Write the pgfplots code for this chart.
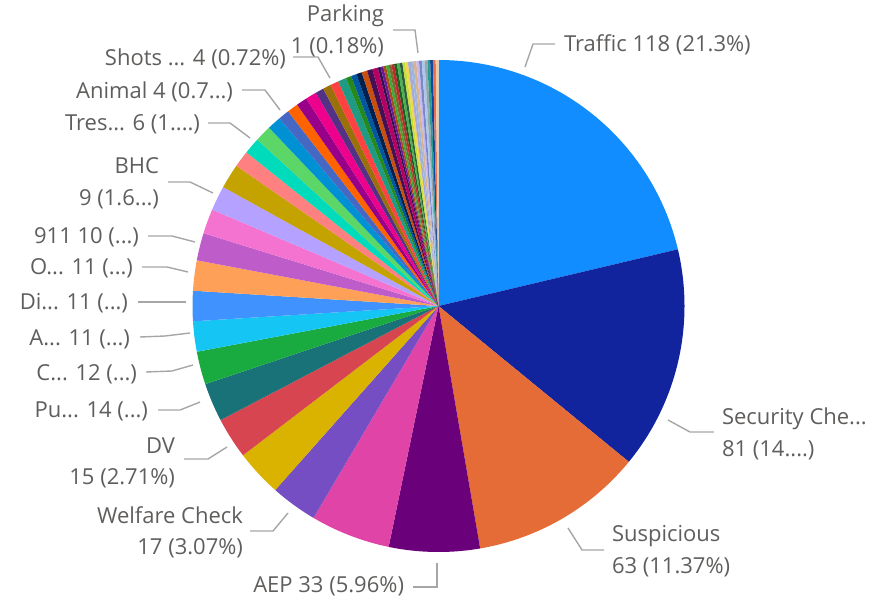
\documentclass[border=0pt]{standalone}
\usepackage{pgfplots}
\pgfplotsset{compat=1.18}
\usepackage{pgfplotstable}
\usepackage{fontspec}
\setmainfont{Open Sans}
\definecolor{labelgray}{HTML}{605E5C}
\definecolor{leadgray}{HTML}{A6A6A6}
\tikzset{lbl/.style={font=\fontsize{11}{13}\selectfont, text=labelgray, inner sep=0pt, outer sep=0pt}}
% slice colours, in slice order (clockwise from 12 o'clock)
\definecolor{pc0}{HTML}{118DFF}\definecolor{pc1}{HTML}{12239E}\definecolor{pc2}{HTML}{E66C37}
\definecolor{pc3}{HTML}{6B007B}\definecolor{pc4}{HTML}{E044A7}\definecolor{pc5}{HTML}{744EC2}
\definecolor{pc6}{HTML}{D9B300}\definecolor{pc7}{HTML}{D64550}\definecolor{pc8}{HTML}{197278}
\definecolor{pc9}{HTML}{1AAB40}\definecolor{pc10}{HTML}{15C6F4}\definecolor{pc11}{HTML}{4092FF}
\definecolor{pc12}{HTML}{FFA058}\definecolor{pc13}{HTML}{BE5DC9}\definecolor{pc14}{HTML}{F472D0}
\definecolor{pc15}{HTML}{B5A1FF}\definecolor{pc16}{HTML}{C4A200}\definecolor{pc17}{HTML}{FF8080}
\definecolor{pc18}{HTML}{00DBBC}\definecolor{pc19}{HTML}{5BD667}\definecolor{pc20}{HTML}{0091D5}
\definecolor{pc21}{HTML}{4668C5}\definecolor{pc22}{HTML}{FF6300}\definecolor{pc23}{HTML}{99008A}
\definecolor{pc24}{HTML}{EC008C}\definecolor{pc25}{HTML}{533285}\definecolor{pc26}{HTML}{99700A}
\definecolor{pc27}{HTML}{FF4141}\definecolor{pc28}{HTML}{1F9A85}\definecolor{pc29}{HTML}{25891C}
\definecolor{pc30}{HTML}{0057A2}\definecolor{pc31}{HTML}{002050}\definecolor{pc32}{HTML}{C94F0F}
\definecolor{pc33}{HTML}{450F54}\definecolor{pc34}{HTML}{B60064}\definecolor{pc35}{HTML}{34124F}
\definecolor{pc36}{HTML}{6A1B9A}\definecolor{pc37}{HTML}{AC4E14}\definecolor{pc38}{HTML}{3DAA3D}
\definecolor{pc39}{HTML}{7B6B2A}\definecolor{pc40}{HTML}{C1272D}\definecolor{pc41}{HTML}{1B5E20}
\definecolor{pc42}{HTML}{4CAF50}\definecolor{pc43}{HTML}{2E5E3E}\definecolor{pc44}{HTML}{C6E03B}
\definecolor{pc45}{HTML}{F2D64B}\definecolor{pc46}{HTML}{A7A9D6}\definecolor{pc47}{HTML}{9BB7E0}
\definecolor{pc48}{HTML}{D9B38C}\definecolor{pc49}{HTML}{C5B9F0}\definecolor{pc50}{HTML}{7B87C6}
\definecolor{pc51}{HTML}{A9C9E8}\definecolor{pc52}{HTML}{9AA5B1}\definecolor{pc53}{HTML}{2A9D8F}
\definecolor{pc54}{HTML}{0D47A1}\definecolor{pc55}{HTML}{E76F51}\definecolor{pc56}{HTML}{F0C9A0}

\pgfplotstableread{
val
118
81
63
33
29
17
17
15
14
12
11
11
11
10
9
9
9
6
6
6
5
4
4
4
4
3
3
3
3
2
2
2
2
2
2
1
1
1
1
1
1
1
1
1
1
1
1
1
1
1
1
1
1
1
1
1
1
}\piedata

\begin{document}
\begin{tikzpicture}
\begin{axis}[
  scale only axis, width=441pt, height=302pt,
  xmin=0, xmax=882, ymin=0, ymax=604, y dir=reverse,
  hide axis, clip=false,
]
\path (axis cs:0,0) rectangle (axis cs:882,604);
\pgfplotstablegetrowsof{\piedata}
\pgfmathtruncatemacro\N{\pgfplotsretval-1}
% total
\def\tot{0}
\pgfplotsforeachungrouped \i in {0,...,\N}{%
  \pgfplotstablegetelem{\i}{val}\of\piedata
  \pgfmathsetmacro\tot{\tot+\pgfplotsretval}%
}
\def\cum{0}
\pgfplotsforeachungrouped \i in {0,...,\N}{%
  \pgfplotstablegetelem{\i}{val}\of\piedata
  \let\v\pgfplotsretval
  \pgfmathsetmacro\a{\cum/\tot*360}%
  \pgfmathsetmacro\cum{\cum+\v}%
  \pgfmathsetmacro\b{\cum/\tot*360}%
  \pgfmathtruncatemacro\ns{max(4,2*\v)}%
  \edef\temp{\noexpand\addplot[draw=none, fill=pc\i, domain=\a:\b, samples=\ns]
    ({438.5+246*sin(x)},{306-246*cos(x)}) -- (axis cs:438.5,306) -- cycle;}%
  \temp
}
% leader lines
\begin{scope}[draw=leadgray, line width=0.7pt]
\draw (axis cs:525,67) -- (axis cs:533,44) -- (axis cs:555,44);
\draw (axis cs:668,420) -- (axis cs:690,432) -- (axis cs:714,432);
\draw (axis cs:568,528) -- (axis cs:582,550) -- (axis cs:604,550);
\draw (axis cs:437,563) -- (axis cs:437,587) -- (axis cs:413,587);
\draw (axis cs:288,513) -- (axis cs:273,531) -- (axis cs:250,531);
\draw (axis cs:227,447) -- (axis cs:208,459) -- (axis cs:184,459);
\draw (axis cs:200,402) -- (axis cs:180,410) -- (axis cs:158,410);
\draw (axis cs:193,365) -- (axis cs:172,371) -- (axis cs:146,372);
\draw (axis cs:190,333) -- (axis cs:165,336) -- (axis cs:140,337);
\draw (axis cs:186,302) -- (axis cs:165,302) -- (axis cs:138,302);
\draw (axis cs:188,272) -- (axis cs:167,267) -- (axis cs:142,267);
\draw (axis cs:195,242) -- (axis cs:172,236) -- (axis cs:148,236);
\draw (axis cs:213,193) -- (axis cs:190,182) -- (axis cs:168,182);
\draw (axis cs:250,138) -- (axis cs:230,123) -- (axis cs:208,123);
\draw (axis cs:280,110) -- (axis cs:265,90) -- (axis cs:242,90);
\draw (axis cs:330,78) -- (axis cs:318,57) -- (axis cs:293,57);
\draw (axis cs:418,53) -- (axis cs:415,30) -- (axis cs:393,30);
\end{scope}
% labels
\node[lbl, anchor=mid west] at (axis cs:564,46) {Traffic 118 (21.3\%)};
\node[lbl, anchor=mid west] at (axis cs:722,419) {Security Che...};
\node[lbl, anchor=mid west] at (axis cs:722,451) {81 (14....)};
\node[lbl, anchor=mid west] at (axis cs:612,536) {Suspicious};
\node[lbl, anchor=mid west] at (axis cs:612,568) {63 (11.37\%)};
\node[lbl, anchor=mid east] at (axis cs:404,587) {AEP 33 (5.96\%)};
\node[lbl, anchor=mid east] at (axis cs:243,518) {Welfare Check};
\node[lbl, anchor=mid east] at (axis cs:243,549) {17 (3.07\%)};
\node[lbl, anchor=mid east] at (axis cs:175,448) {DV};
\node[lbl, anchor=mid east] at (axis cs:175,479) {15 (2.71\%)};
\node[lbl, anchor=mid east] at (axis cs:148,412) {Pu... 14 (...)};
\node[lbl, anchor=mid east] at (axis cs:137,375) {C... 12 (...)};
\node[lbl, anchor=mid east] at (axis cs:130,340) {A... 11 (...)};
\node[lbl, anchor=mid east] at (axis cs:128,304) {Di... 11 (...)};
\node[lbl, anchor=mid east] at (axis cs:133,269) {O... 11 (...)};
\node[lbl, anchor=mid east] at (axis cs:139,238) {911 10 (...)};
\node[lbl, anchor=mid east] at (axis cs:159,168) {BHC};
\node[lbl, anchor=mid east] at (axis cs:159,200) {9 (1.6...)};
\node[lbl, anchor=mid east] at (axis cs:200,125) {Tres... 6 (1....)};
\node[lbl, anchor=mid east] at (axis cs:233,93) {Animal 4 (0.7...)};
\node[lbl, anchor=mid east] at (axis cs:286,60) {Shots ... 4 (0.72\%)};
\node[lbl, anchor=mid east] at (axis cs:384,16) {Parking};
\node[lbl, anchor=mid east] at (axis cs:384,48) {1 (0.18\%)};
\end{axis}
\end{tikzpicture}
\end{document}
